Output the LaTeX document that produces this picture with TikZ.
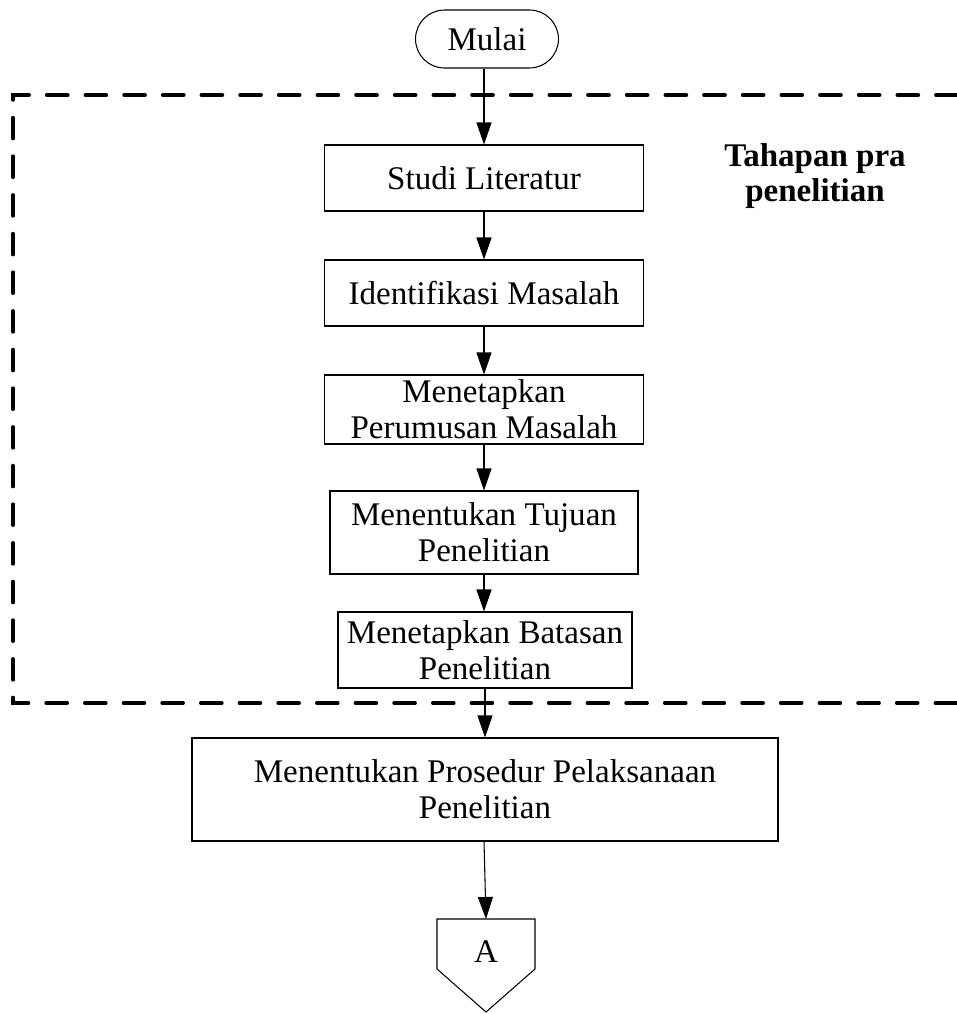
\documentclass[tikz,border=0pt]{standalone}
\usepackage{fontspec}
\setmainfont{Liberation Serif}
\usetikzlibrary{arrows.meta,positioning,shapes.misc,calc}
\tikzset{
  flow/terminal/.style={draw, rounded rectangle, line width=0.6pt, minimum width=30mm, minimum height=11.6mm, inner sep=2pt},
  flow/process/.style={draw, rectangle, line width=0.6pt, align=center, minimum width=63.8mm, minimum height=13.2mm, inner sep=2pt},
  flow/connector/.style={inner sep=0pt},
  flow/group/.style={line width=2pt, dash pattern=on 12pt off 10pt, line cap=round},
  flow/note/.style={font=\fontsize{18.8}{20.4}\selectfont\bfseries, align=center},
  arr/.style={-{Triangle[length=4.4mm,width=3mm]}, line width=0.6pt}
}
\begin{document}
\begin{tikzpicture}[x=0.2mm, y=-0.2mm, font=\fontsize{18.8}{20.4}\selectfont]
  \useasboundingbox (0,0) rectangle (957,1014);

  % pre-research stage frame
  \draw[flow/group] (957,95) -- (13,95) -- (13,703) -- (957,703);
  \node[flow/note] (tahap) at (815,176) {Tahapan pra\\penelitian};

  \node[flow/terminal] (mulai) at (487,39) {Mulai};
  \node[flow/process] (studi) at (484,178) {Studi Literatur};
  \node[flow/process] (ident) at (484,293) {Identifikasi Masalah};
  \node[flow/process, minimum height=13.8mm] (rumus) at (484,409.5) {Menetapkan\\Perumusan Masalah};
  \node[flow/process, minimum width=61.6mm, minimum height=16.6mm] (tujuan) at (484,532.5) {Menentukan Tujuan\\Penelitian};
  \node[flow/process, minimum width=58.8mm, minimum height=15.2mm] (batas) at (485,650) {Menetapkan Batasan\\Penelitian};
  \node[flow/process, minimum width=117.2mm, minimum height=20.6mm] (prosedur) at (485,789.5) {Menentukan Prosedur Pelaksanaan\\Penelitian};

  % off-page connector
  \node[flow/connector] (conA) at (486,952) {A};
  \draw[line width=0.6pt] ($(conA)+(-49,-33)$) -- ($(conA)+(49,-33)$) -- ($(conA)+(49,17)$)
    -- ($(conA)+(0,60)$) -- ($(conA)+(-49,17)$) -- cycle;
  \coordinate (conA top) at ($(conA)+(0,-33)$);

  \draw[arr] (mulai.south -| studi.north) -- (studi);
  \foreach \a/\b in {studi/ident, ident/rumus, rumus/tujuan, tujuan/batas, batas/prosedur}
    \draw[arr] (\a.south) -- (\b.north -| \a.south);
  \draw[arr] (prosedur.south -| studi.south) -- (conA top);
\end{tikzpicture}
\end{document}
